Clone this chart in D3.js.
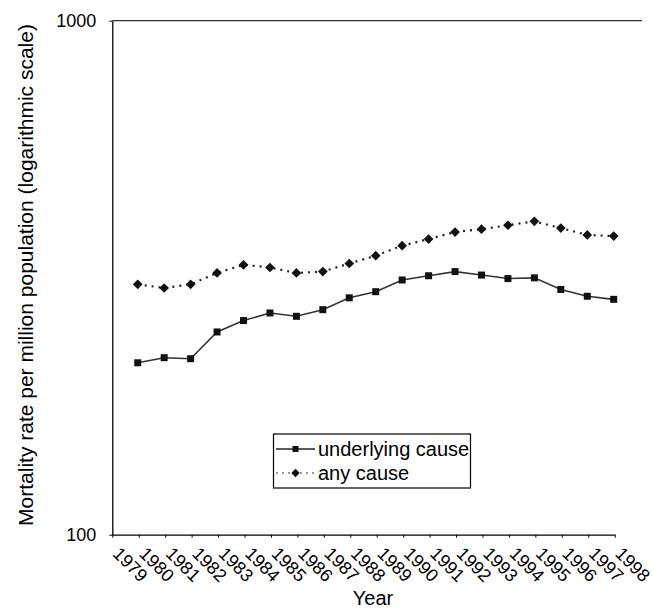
<!DOCTYPE html>
<html>
<head>
<meta charset="utf-8">
<script src="https://cdn.jsdelivr.net/npm/d3@7"></script>
<style>
  html, body { margin: 0; padding: 0; background: #fff; }
  svg { display: block; font-family: "Liberation Sans", Arial, sans-serif; }
</style>
</head>
<body>
<svg id="chart" width="653" height="608"></svg>
<script>
// ---- data ----
const yearLabels = ["1979","1980","1981","1982","1983","1984","1985","1986","1987","1988",
                    "1989","1990","1991","1992","1993","1994","1995","1996","1997","1998"];
const dataYears = ["1980","1981","1982","1983","1984","1985","1986","1987","1988","1989",
                   "1990","1991","1992","1993","1994","1995","1996","1997","1998"];
const underlyingCause = [216, 221, 220, 248, 261, 270, 266, 274, 289, 297,
                         313, 319, 325, 320, 315, 316, 300, 291, 287];
const anyCause = [307, 302, 307, 323, 335, 331, 323, 325, 337, 349,
                  365, 376, 388, 393, 400, 407, 395, 383, 381];
const yTickValues = [100, 1000];
const seriesNames = ["underlying cause", "any cause"];

// ---- layout ----
const svg = d3.select("#chart");
const x0 = 112.3, x1 = 614.7, plotRight = 642;
const yTop = 20.7, yBottom = 534.7;

const x = d3.scalePoint().domain(yearLabels).range([x0, x1]);
const y = d3.scaleLog().domain([100, 1000]).range([yBottom, yTop]);

// gridline at 1000
svg.append("line")
  .attr("x1", x0).attr("x2", plotRight)
  .attr("y1", y(1000)).attr("y2", y(1000))
  .attr("stroke", "#333").attr("stroke-width", 1.3);

// y axis
const yAxis = svg.append("g")
  .attr("transform", `translate(${x0},0)`)
  .call(d3.axisLeft(y).tickValues(yTickValues).tickFormat(d3.format("d")).tickSize(3).tickSizeOuter(0));
yAxis.select(".domain").attr("stroke", "#000").attr("stroke-width", 1.3);
yAxis.selectAll(".tick line").attr("stroke", "#000");
yAxis.selectAll(".tick text")
  .attr("x", -16)
  .attr("font-size", 18)
  .attr("font-family", "Liberation Sans, Arial, sans-serif")
  .attr("fill", "#000");

// x axis
const xAxis = svg.append("g")
  .attr("transform", `translate(0,${yBottom})`)
  .call(d3.axisBottom(x).tickSize(3).tickSizeOuter(0).tickFormat(""));
xAxis.select(".domain").attr("stroke", "#000").attr("stroke-width", 1.3);
xAxis.selectAll(".tick line").attr("stroke", "#000");

// rotated x tick labels
svg.append("g").selectAll("text")
  .data(yearLabels)
  .join("text")
  .attr("transform", d => `translate(${x(d) - 0.5},${yBottom + 20}) rotate(45)`)
  .attr("text-anchor", "start")
  .attr("font-size", 18)
  .attr("fill", "#000")
  .text(d => d);

// axis titles
svg.append("text")
  .attr("x", 373)
  .attr("y", 605)
  .attr("text-anchor", "middle")
  .attr("font-size", 20)
  .attr("fill", "#000")
  .text("Year");

svg.append("text")
  .attr("transform", `translate(33,275) rotate(-90)`)
  .attr("text-anchor", "middle")
  .attr("font-size", 21)
  .attr("fill", "#000")
  .text("Mortality rate per million population (logarithmic scale)");

// series
const line = d3.line().x(d => x(d[0]) - 1).y(d => y(d[1]));
const under = dataYears.map((yr, i) => [yr, underlyingCause[i]]);
const anyc = dataYears.map((yr, i) => [yr, anyCause[i]]);

svg.append("path").datum(anyc)
  .attr("d", line).attr("fill", "none")
  .attr("stroke", "#222").attr("stroke-width", 2.2)
  .attr("stroke-dasharray", "2,5");

svg.append("path").datum(under)
  .attr("d", line).attr("fill", "none")
  .attr("stroke", "#333").attr("stroke-width", 1.6);

const sq = 7;
svg.append("g").selectAll("rect")
  .data(under).join("rect")
  .attr("x", d => x(d[0]) - 1 - sq / 2).attr("y", d => y(d[1]) - sq / 2)
  .attr("width", sq).attr("height", sq)
  .attr("fill", "#111");

const diamond = d3.symbol().type(d3.symbolDiamond2).size(60);
svg.append("g").selectAll("path")
  .data(anyc).join("path")
  .attr("transform", d => `translate(${x(d[0]) - 1},${y(d[1])})`)
  .attr("d", diamond)
  .attr("fill", "#111");

// legend
const lg = svg.append("g");
lg.append("rect")
  .attr("x", 273.5).attr("y", 434).attr("width", 197).attr("height", 54)
  .attr("fill", "#fff").attr("stroke", "#000").attr("stroke-width", 1.2);

const rows = [
  { name: seriesNames[0], y: 449, dash: null, width: 1.6 },
  { name: seriesNames[1], y: 473, dash: "2,4", width: 1.6 }
];
rows.forEach((r, i) => {
  lg.append("line")
    .attr("x1", 276).attr("x2", 315).attr("y1", r.y).attr("y2", r.y)
    .attr("stroke", i === 0 ? "#222" : "#777").attr("stroke-width", r.width)
    .attr("stroke-dasharray", r.dash);
  if (i === 0) {
    lg.append("rect").attr("x", 295.5 - 3).attr("y", r.y - 3)
      .attr("width", 6).attr("height", 6).attr("fill", "#111");
  } else {
    lg.append("path").attr("transform", `translate(295.5,${r.y})`)
      .attr("d", d3.symbol().type(d3.symbolDiamond2).size(45)).attr("fill", "#111");
  }
  lg.append("text")
    .attr("x", 318).attr("y", r.y + 7)
    .attr("font-size", 20).attr("fill", "#000")
    .text(r.name);
});
</script>
</body>
</html>
